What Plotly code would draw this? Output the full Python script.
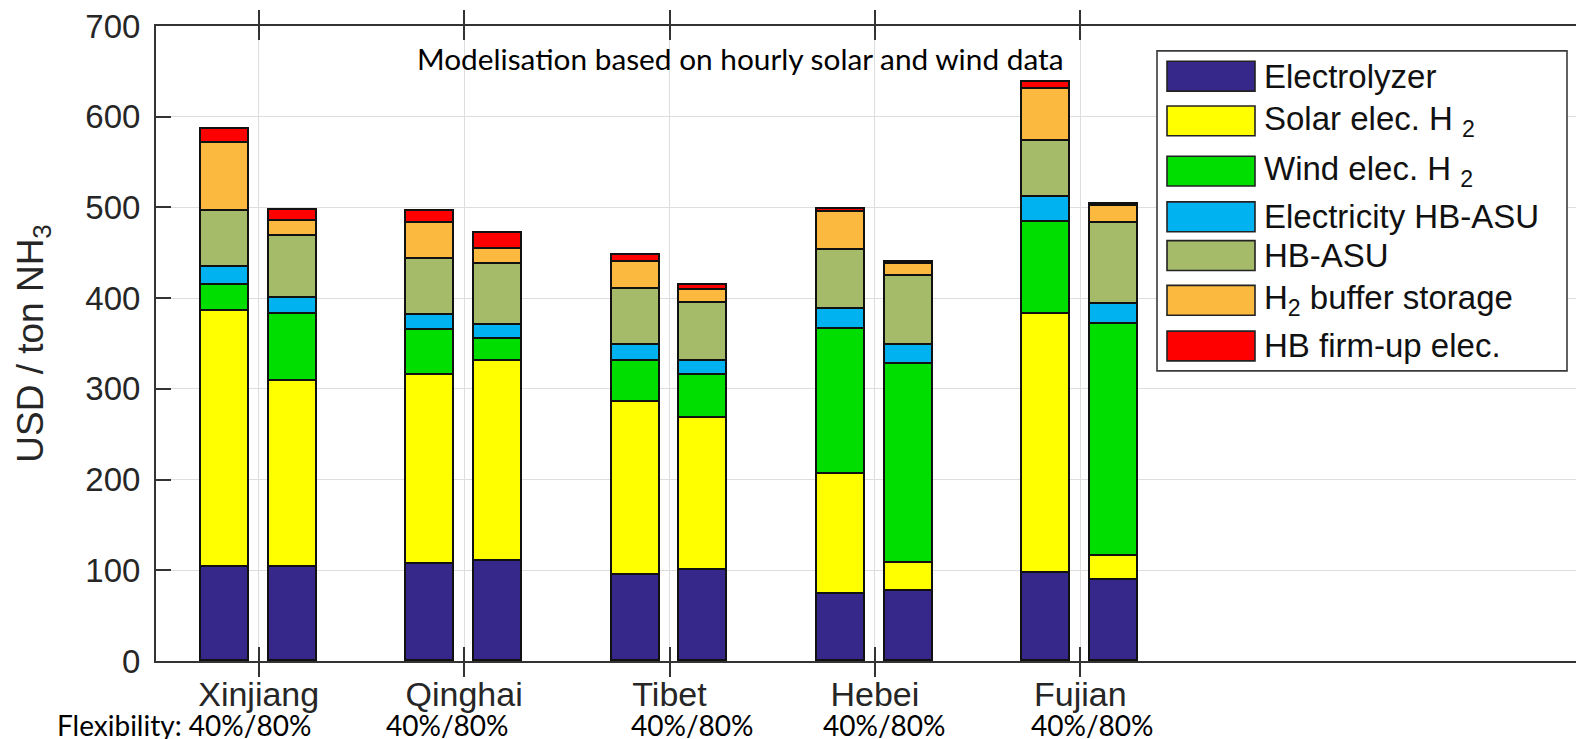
import plotly.graph_objects as go

# ---------------- data ----------------
regions = ["Xinjiang", "Qinghai", "Tibet", "Hebei", "Fujian"]
flex_labels = ["Flexibility: 40%/80%", "40%/80%", "40%/80%", "40%/80%", "40%/80%"]

series_names = [
    "Electrolyzer",
    "Solar elec. H <sub>2</sub>",
    "Wind elec. H <sub>2</sub>",
    "Electricity HB-ASU",
    "HB-ASU",
    "H<sub>2</sub> buffer storage",
    "HB firm-up elec.",
]
series_colors = ["#35288A", "#FFFF00", "#00DE00", "#00B2F0", "#A5BB6A", "#FBB940", "#FF0000"]

# 40 % flexibility (left bar of each pair), USD / ton NH3
electrolyzer_40 = [103.3, 107.0, 95.0, 74.2, 97.5]
solar_40 = [282.7, 208.8, 190.0, 132.1, 285.1]
wind_40 = [29.0, 48.6, 45.5, 159.2, 101.2]
elec_hbasu_40 = [19.5, 16.6, 17.5, 22.3, 27.2]
hbasu_40 = [61.5, 62.6, 61.7, 64.9, 62.6]
buffer_40 = [75.5, 39.4, 30.3, 42.1, 57.4]
firmup_40 = [14.5, 13.0, 7.3, 3.6, 7.0]

# 80 % flexibility (right bar of each pair)
electrolyzer_80 = [103.7, 110.6, 100.4, 76.7, 89.8]
solar_80 = [204.8, 219.9, 167.2, 31.3, 26.2]
wind_80 = [73.5, 24.1, 47.4, 219.2, 255.7]
elec_hbasu_80 = [18.0, 16.0, 15.8, 21.5, 21.9]
hbasu_80 = [68.5, 67.4, 64.0, 75.9, 88.7]
buffer_80 = [17.0, 15.8, 14.0, 12.8, 19.0]
firmup_80 = [11.5, 18.2, 5.4, 2.6, 2.9]

values_40 = [electrolyzer_40, solar_40, wind_40, elec_hbasu_40, hbasu_40, buffer_40, firmup_40]
values_80 = [electrolyzer_80, solar_80, wind_80, elec_hbasu_80, hbasu_80, buffer_80, firmup_80]

y_ticks = [0, 100, 200, 300, 400, 500, 600, 700]

# ---------------- layout constants (viewport pixels) ----------------
OFF = 8                     # default body margin of the html page
VW, VH = 1584, 739
W, H = VW - OFF, VH - OFF
PL, PR, PT, PB = 156, 1584, 22, 661
PX_PER_UNIT = 205.4
X0 = 0.5
X1 = X0 + (PR - PL) / PX_PER_UNIT
BAR_OFF = 0.165
BAR_W = 0.234

AX_FONT = "Liberation Sans, Arial, Helvetica, sans-serif"
TXT_FONT = "Lato, Open Sans, sans-serif"
AX_COL = "#262626"


def px_x(px):
    return (px - PL) / (PR - PL)


def px_y(py):
    return (PB - py) / (PB - PT)


pos = list(range(1, len(regions) + 1))
x_bars = [p - BAR_OFF for p in pos] + [p + BAR_OFF for p in pos]

fig = go.Figure()
for name, col, v40, v80 in zip(series_names, series_colors, values_40, values_80):
    fig.add_trace(go.Bar(
        x=x_bars, y=list(v40) + list(v80), name=name, width=BAR_W,
        marker=dict(color=col, line=dict(color="#111111", width=1.6)),
        showlegend=False,
    ))

# ---------------- custom legend ----------------
shapes = []
annotations = []
LEG_L, LEG_R, LEG_T, LEG_B = 1157, 1567, 47, 369
LEG_ROWS = [72.5, 117.5, 168, 214, 253, 298, 344]
shapes.append(dict(type="rect", xref="paper", yref="paper",
                   x0=px_x(LEG_L), x1=px_x(LEG_R), y0=px_y(LEG_B), y1=px_y(LEG_T),
                   line=dict(color="#3a3a3a", width=1.6), fillcolor="white", layer="above"))
for cy, name, col in zip(LEG_ROWS, series_names, series_colors):
    shapes.append(dict(type="rect", xref="paper", yref="paper",
                       x0=px_x(1167), x1=px_x(1255), y0=px_y(cy + 15), y1=px_y(cy - 15),
                       line=dict(color="#222222", width=1.6), fillcolor=col, layer="above"))
    annotations.append(dict(xref="paper", yref="paper", x=px_x(1262), y=px_y(cy),
                            xanchor="left", yanchor="middle",
                            text=name, showarrow=False,
                            font=dict(family=AX_FONT, size=33, color="#111111")))

# ---------------- overlay texts ----------------
annotations.append(dict(xref="paper", yref="paper", x=px_x(415), y=px_y(35.5),
                        xanchor="left", yanchor="top", showarrow=False,
                        text="Modelisation based on hourly solar and wind data",
                        font=dict(family=TXT_FONT, size=29.8, color="black")))
flex_left = [55, 384, 629, 821, 1029]
for lx, t in zip(flex_left, flex_labels):
    annotations.append(dict(xref="paper", yref="paper", x=px_x(lx), y=px_y(706),
                            xanchor="left", yanchor="top", showarrow=False, text=t,
                            font=dict(family=TXT_FONT, size=28, color="black")))

fig.update_layout(
    width=W, height=H,
    margin=dict(l=PL - OFF, r=VW - PR, t=PT - OFF, b=H - (PB - OFF), pad=0),
    paper_bgcolor="white", plot_bgcolor="white",
    barmode="stack", bargap=0,
    shapes=shapes, annotations=annotations,
    xaxis=dict(
        range=[X0, X1], tickmode="array", tickvals=pos, ticktext=regions,
        showgrid=True, gridcolor="#dedede", gridwidth=1.2, zeroline=False,
        showline=True, linecolor="#333333", linewidth=2, mirror="allticks",
        ticks="inside", ticklen=14, tickwidth=1.5, tickcolor="#333333",
        ticklabelstandoff=2,
        tickfont=dict(family=AX_FONT, size=34, color=AX_COL),
    ),
    yaxis=dict(
        range=[0, 700], tickmode="array", tickvals=y_ticks,
        showgrid=True, gridcolor="#dedede", gridwidth=1.2, zeroline=False,
        showline=True, linecolor="#333333", linewidth=2, mirror=False,
        ticks="inside", ticklen=15, tickwidth=1.5, tickcolor="#333333",
        ticklabelstandoff=7, ticklabeloverflow="allow",
        tickfont=dict(family=AX_FONT, size=33, color=AX_COL),
        title=dict(text="USD / ton NH<sub>3</sub>", standoff=30,
                   font=dict(family=AX_FONT, size=37, color=AX_COL)),
    ),
    yaxis2=dict(
        range=[0, 700], overlaying="y", side="right", tickmode="array", tickvals=y_ticks,
        showgrid=False, zeroline=False, showline=False, showticklabels=False,
        ticks="inside", ticklen=5, tickwidth=1.5, tickcolor="#333333",
    ),
)
fig.add_trace(go.Scatter(x=[X0], y=[0], yaxis="y2", mode="markers",
                         marker=dict(opacity=0), showlegend=False, hoverinfo="skip"))

fig.write_html("out.html")
